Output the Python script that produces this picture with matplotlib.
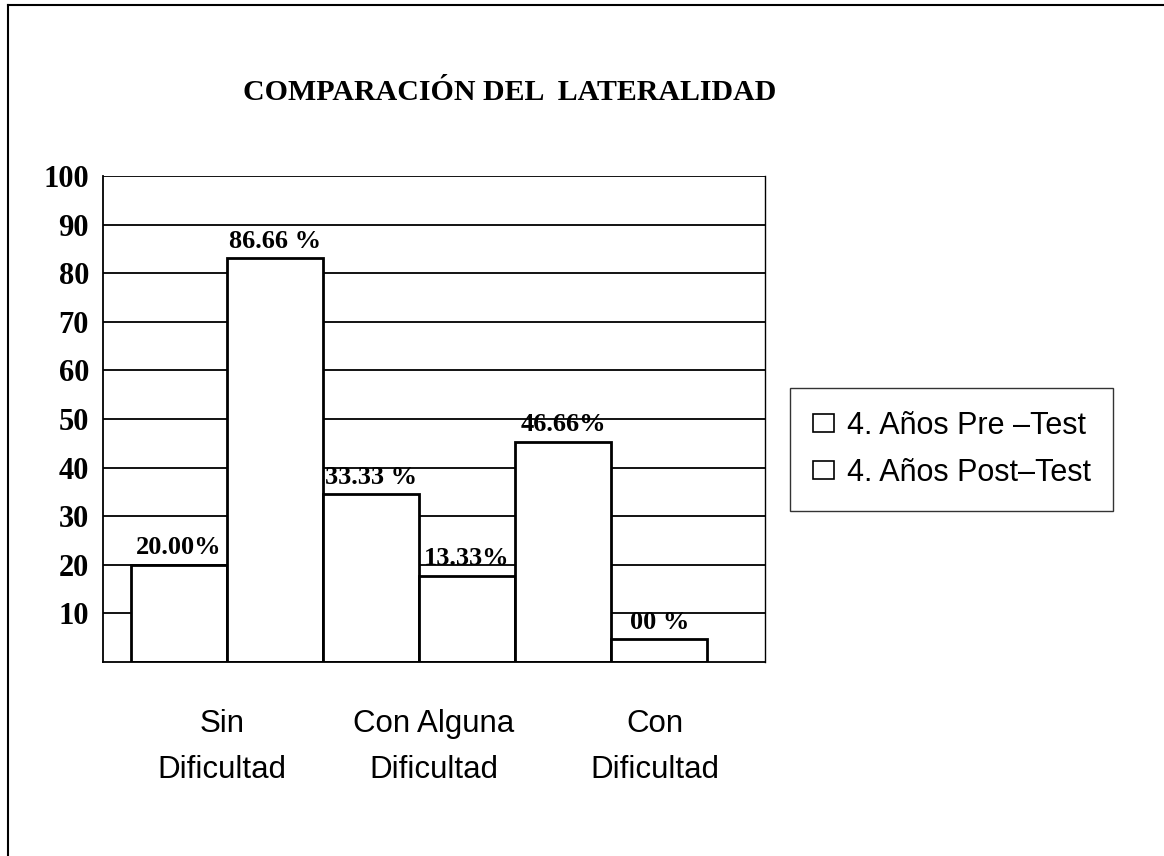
import matplotlib.pyplot as plt
from matplotlib.patches import Patch
from matplotlib.lines import Line2D

# categories and values (bar heights as drawn in the picture, labels as printed)
categories = ["Sin\nDificultad", "Con Alguna\nDificultad", "Con\nDificultad"]
pre_test = [20.0, 34.5, 45.3]
post_test = [83.1, 17.7, 4.7]
pre_labels = ["20.00%", "33.33 %", "46.66%"]
post_labels = ["86.66 %", "13.33%", "00 %"]
series_names = ["4. Años Pre \u2013Test", "4. Años Post\u2013Test"]
yticks = [10, 20, 30, 40, 50, 60, 70, 80, 90, 100]

serif = "Liberation Serif"
sans = "Liberation Sans"

W, H = 1164, 856
fig = plt.figure(figsize=(W / 100, H / 100), dpi=100)
ax = fig.add_axes([103 / W, 1 - 662 / H, 662 / W, 486 / H])

# bars: pre, post, pre, post ... side by side
heights = []
labels = []
for i in range(len(categories)):
    heights += [pre_test[i], post_test[i]]
    labels += [pre_labels[i], post_labels[i]]
xs = list(range(len(heights)))

for y in yticks:
    ax.axhline(y, color="black", lw=1.3, zorder=0)

bars = ax.bar(xs, heights, width=1.0, align="edge", color="white",
              edgecolor="black", linewidth=2, zorder=2)

for b, lab in zip(bars, labels):
    ax.annotate(lab, (b.get_x() + b.get_width() / 2, b.get_height()),
                xytext=(0, 4), textcoords="offset points", ha="center",
                va="bottom", fontsize=19, fontweight="bold", family=serif,
                zorder=3)

ax.set_xlim(-0.29, 6.6)
ax.set_ylim(0, 100)
ax.set_yticks(yticks)
ax.set_yticklabels([str(t) for t in yticks], fontsize=22, fontweight="bold",
                   family=serif)
ax.tick_params(axis="y", length=0, pad=10)
ax.set_xticks([])
for s in ["left", "bottom"]:
    ax.spines[s].set_linewidth(1.3)
ax.spines["top"].set_visible(False)
ax.spines["right"].set_linewidth(1.0)

# category labels under the axis
label_x = [0.95, 3.15, 5.45]
for x, c in zip(label_x, categories):
    ax.text(x, -0.175, c, transform=ax.get_xaxis_transform(), ha="center",
            va="center", fontsize=22.5, family=sans, linespacing=1.7)

fig.text(510 / W, 1 - 92 / H, "COMPARACIÓN DEL  LATERALIDAD",
         ha="center", va="center", fontsize=21.5, fontweight="bold",
         family=serif)

handles = [Patch(facecolor="white", edgecolor="black", linewidth=1.2)
           for _ in series_names]
leg = fig.legend(handles, series_names, loc="upper left",
                 bbox_to_anchor=(790 / W, 1 - 388 / H), borderaxespad=0,
                 prop={"family": sans, "size": 22}, frameon=True,
                 fancybox=False, edgecolor="black", handlelength=0.7,
                 handleheight=0.5, handletextpad=0.4, labelspacing=0.55,
                 borderpad=0.75)
leg.get_frame().set_linewidth(1.0)

# outer frame of the scanned page: only top and left edges show
fig.add_artist(Line2D([8 / W, 1], [1 - 5 / H, 1 - 5 / H], color="black",
                      lw=1.5, transform=fig.transFigure))
fig.add_artist(Line2D([8 / W, 8 / W], [0, 1 - 5 / H], color="black",
                      lw=1.5, transform=fig.transFigure))

fig.savefig("out.png", dpi=100)
